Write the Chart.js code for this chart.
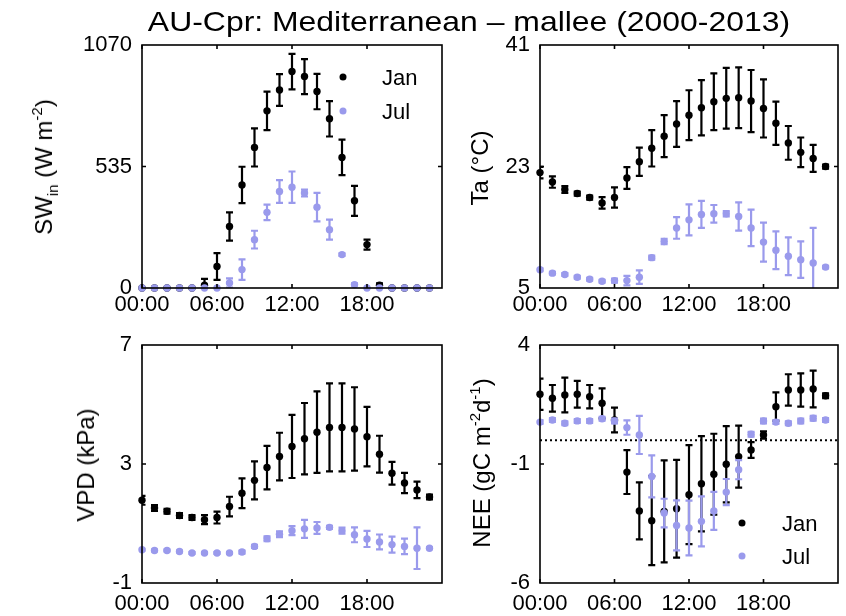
<!DOCTYPE html>
<html>
<head>
<meta charset="utf-8">
<script src="https://cdn.jsdelivr.net/npm/chart.js@4.4.1/dist/chart.umd.min.js"></script>
<style>
  body { margin: 0; background: #fff; font-family: "Liberation Sans", Arial, sans-serif; }
  #wrap { position: relative; width: 846px; height: 616px; overflow: hidden; }
  canvas { position: absolute; left: 0; top: 0; }
  .txt { position: absolute; color: #000; white-space: nowrap; line-height: 1; }
  .ylab { position: absolute; color: #000; font-size: 24px; white-space: nowrap; line-height: 1;
          transform: translate(-50%, -50%) rotate(-90deg); }
  .sub, .sup { font-size: 15px; position: relative; }
  .sub { top: 6px; }
  .sup { top: -10px; }
  .dot { position: absolute; width: 7px; height: 7px; border-radius: 50%; transform: translate(-50%, -50%); }
  .leg { position: absolute; font-size: 22px; line-height: 1; transform: translateY(-50%); }
</style>
</head>
<body>
<div id="wrap">
  <canvas id="c_sw" width="846" height="616"></canvas>
  <canvas id="c_ta" width="846" height="616"></canvas>
  <canvas id="c_vpd" width="846" height="616"></canvas>
  <canvas id="c_nee" width="846" height="616"></canvas>

  <div class="txt" style="left:469px;top:8px;font-size:28px;transform:translateX(-50%) scaleX(1.14);">AU-Cpr: Mediterranean – mallee (2000-2013)</div>

  <div class="ylab" style="left:44px;top:167px;">SW<span class="sub">in</span> (W m<span class="sup">-2</span>)</div>
  <div class="ylab" style="left:480px;top:168px;">Ta (°C)</div>
  <div class="ylab" style="left:86px;top:465px;">VPD (kPa)</div>
  <div class="ylab" style="left:482px;top:463px;">NEE (gC m<span class="sup">-2</span>d<span class="sup">-1</span>)</div>

  <div class="dot" style="left:343px;top:77px;background:#000;"></div>
  <div class="leg" style="left:382px;top:78px;">Jan</div>
  <div class="dot" style="left:343px;top:111px;background:#9a9aec;"></div>
  <div class="leg" style="left:382px;top:112px;">Jul</div>

  <div class="dot" style="left:742px;top:523px;background:#000;"></div>
  <div class="leg" style="left:782px;top:524px;">Jan</div>
  <div class="dot" style="left:742px;top:556px;background:#9a9aec;"></div>
  <div class="leg" style="left:782px;top:557px;">Jul</div>
</div>

<script>
const HOURS = [0,1,2,3,4,5,6,7,8,9,10,11,12,13,14,15,16,17,18,19,20,21,22,23];
const X_TICKS = [0, 6, 12, 18];
const X_LABELS = ["00:00", "06:00", "12:00", "18:00"];

const SW_JAN = [0,0,0,0,0,12,95,271,454,619,780,872,953,931,865,745,575,384,191,12,0,0,0,0];
const SW_JAN_ERR = [0,0,0,0,0,28,59,62,80,84,85,70,78,77,78,78,78,66,22,8,0,0,0,0];
const SW_JUL = [0,0,0,0,0,0,0,22,81,213,333,425,444,418,356,257,147,15,0,0,0,0,0,0];
const SW_JUL_ERR = [0,0,0,0,0,0,0,20,45,39,34,50,69,15,63,44,6,5,0,0,0,0,0,0];
const SW_TICKS = [0, 535, 1070];

const TA_JAN = [22.1,20.7,19.6,19.0,18.4,17.6,18.4,21.3,23.7,25.7,27.5,29.3,30.6,31.7,32.6,33.1,33.2,32.7,31.6,29.4,26.5,25.1,24.2,23.0];
const TA_JAN_ERR = [0.85,0.85,0.5,0.3,0.3,0.85,1.5,1.6,2.1,2.7,3.1,3.4,3.7,4.1,4.2,4.5,4.5,4.6,4.3,3.2,2.5,2.2,2.0,0.3];
const TA_JUL = [7.7,7.2,7.0,6.6,6.3,6.0,6.1,6.1,6.6,9.5,11.9,13.9,15.1,15.9,16.0,16.0,15.6,13.9,11.8,10.6,9.7,9.2,8.7,8.1];
const TA_JUL_ERR = [0.2,0.2,0.2,0.2,0.2,0.2,0.3,0.7,1.0,0.3,0.4,1.6,2.3,2.0,1.3,0.4,2.1,2.7,2.9,2.8,2.8,2.7,5.2,0.2];
const TA_TICKS = [5, 23, 41];

const VPD_JAN = [1.78,1.52,1.41,1.27,1.20,1.13,1.20,1.57,2.02,2.45,2.88,3.25,3.59,3.85,4.07,4.23,4.23,4.18,3.92,3.33,2.69,2.36,2.13,1.89];
const VPD_JAN_ERR = [0.15,0.1,0.08,0.08,0.08,0.15,0.2,0.33,0.5,0.64,0.73,0.8,1.06,1.2,1.37,1.48,1.48,1.4,1.0,0.62,0.38,0.34,0.28,0.08];
const VPD_JUL = [0.12,0.09,0.09,0.06,0.01,0.01,0.01,0.01,0.04,0.23,0.49,0.64,0.76,0.82,0.85,0.87,0.76,0.62,0.48,0.38,0.29,0.23,0.17,0.17];
const VPD_JUL_ERR = [0.03,0.03,0.03,0.03,0.03,0.03,0.03,0.03,0.05,0.05,0.08,0.1,0.15,0.3,0.2,0.05,0.1,0.25,0.27,0.25,0.27,0.26,0.7,0.03];
const VPD_TICKS = [-1, 3, 7];

const NEE_JAN = [1.93,1.76,1.90,1.93,1.83,1.55,0.85,-1.34,-2.97,-3.38,-2.99,-2.88,-2.29,-1.83,-1.43,-1.01,-0.69,-0.41,0.22,1.41,2.11,2.11,2.15,1.87];
const NEE_JAN_ERR = [0.66,0.56,0.73,0.56,0.49,0.63,0.52,0.92,1.2,1.87,2.14,2.05,2.08,2.0,1.7,1.6,1.3,0.33,0.15,0.6,0.66,0.7,0.77,0.1];
const NEE_JUL = [0.76,0.85,0.71,0.81,0.81,0.9,0.81,0.53,0.22,-1.52,-3.06,-3.58,-3.69,-3.41,-2.97,-2.18,-1.24,0.25,0.81,0.76,0.71,0.81,0.92,0.85];
const NEE_JUL_ERR = [0.08,0.08,0.08,0.08,0.08,0.08,0.1,0.3,0.8,0.88,0.6,1.05,1.15,1.05,0.8,0.55,0.4,0.1,0.1,0.08,0.08,0.1,0.1,0.08];
const NEE_TICKS = [-6, -1, 4];
const ZERO_X = [0, 24];
const ZERO_Y = [0, 0];

const JAN_COLOR = "#000000";
const JUL_COLOR = "#9a9aec";
const FONT = { family: "Liberation Sans, Arial, sans-serif", size: 22 };
const Y_AXIS_W = 100;   // fixed axis box sizes so the plot areas land where they should
const X_AXIS_H = 30;

// error bars drawn just before each dataset's own points
const errorBarPlugin = {
  id: "errorBars",
  beforeDatasetDraw(chart, args) {
    const ds = chart.data.datasets[args.index];
    if (!ds._errors) return;
    const { ctx, chartArea, scales } = chart;
    ctx.save();
    ctx.beginPath();
    ctx.rect(chartArea.left, chartArea.top, chartArea.right - chartArea.left, chartArea.bottom - chartArea.top);
    ctx.clip();
    ctx.strokeStyle = ds.pointBackgroundColor;
    ctx.lineWidth = 2.2;
    ds.data.forEach((p, i) => {
      const e = ds._errors[i];
      if (!e) return;
      const x = scales.x.getPixelForValue(p.x);
      const y1 = scales.y.getPixelForValue(p.y - e);
      const y2 = scales.y.getPixelForValue(p.y + e);
      ctx.beginPath();
      ctx.moveTo(x, y1); ctx.lineTo(x, y2);
      ctx.moveTo(x - 3.5, y1); ctx.lineTo(x + 3.5, y1);
      ctx.moveTo(x - 3.5, y2); ctx.lineTo(x + 3.5, y2);
      ctx.stroke();
    });
    ctx.restore();
  }
};

// box frame with inward ticks on all four sides
const framePlugin = {
  id: "frame",
  afterDatasetsDraw(chart) {
    const { ctx, chartArea: a, scales } = chart;
    ctx.save();
    ctx.strokeStyle = "#000";
    ctx.lineWidth = 1.6;
    ctx.strokeRect(a.left, a.top, a.right - a.left, a.bottom - a.top);
    ctx.beginPath();
    X_TICKS.forEach(v => {
      const x = scales.x.getPixelForValue(v);
      ctx.moveTo(x, a.bottom); ctx.lineTo(x, a.bottom - 4);
      ctx.moveTo(x, a.top); ctx.lineTo(x, a.top + 4);
    });
    const mid = scales.y.getPixelForValue(chart.options._yTicks[1]);
    ctx.moveTo(a.left, mid); ctx.lineTo(a.left + 4, mid);
    ctx.moveTo(a.right, mid); ctx.lineTo(a.right - 4, mid);
    ctx.stroke();
    ctx.restore();
  }
};

function pts(ys) {
  return HOURS.map((h, i) => ({ x: h, y: ys[i] }));
}

function seriesDataset(label, ys, errs, color, order) {
  return {
    label: label,
    data: pts(ys),
    _errors: errs,
    order: order,
    showLine: false,
    pointRadius: 3.7,
    pointHoverRadius: 3.7,
    pointBorderWidth: 0,
    pointBackgroundColor: color,
    backgroundColor: color,
    borderColor: color,
    clip: false,
  };
}

function createPanel(canvasId, box, yTicks, janY, janE, julY, julE, xLabelPad, extra) {
  const datasets = [
    seriesDataset("Jan", janY, janE, JAN_COLOR, 1),
    seriesDataset("Jul", julY, julE, JUL_COLOR, 0),
  ];
  if (extra) datasets.push(extra);
  return new Chart(document.getElementById(canvasId), {
    type: "scatter",
    data: { datasets },
    plugins: [errorBarPlugin, framePlugin],
    options: {
      _yTicks: yTicks,
      responsive: false,
      animation: false,
      devicePixelRatio: 1,
      events: [],
      layout: { padding: {
        left: box.l - Y_AXIS_W, top: box.t,
        right: 846 - box.r, bottom: 616 - box.b - X_AXIS_H,
      } },
      plugins: { legend: { display: false }, tooltip: { enabled: false } },
      scales: {
        x: {
          type: "linear", min: 0, max: 24,
          afterFit: s => { s.height = X_AXIS_H; },
          afterBuildTicks: s => { s.ticks = X_TICKS.map(v => ({ value: v })); },
          ticks: {
            font: FONT, color: "#000", padding: xLabelPad, maxRotation: 0, autoSkip: false,
            callback: v => X_LABELS[X_TICKS.indexOf(v)],
          },
          grid: { display: false, drawTicks: false },
          border: { display: false },
        },
        y: {
          type: "linear", min: yTicks[0], max: yTicks[2],
          afterFit: s => { s.width = Y_AXIS_W; },
          afterBuildTicks: s => { s.ticks = yTicks.map(v => ({ value: v })); },
          ticks: { font: FONT, color: "#000", padding: 10, autoSkip: false, callback: v => String(v) },
          grid: { display: false, drawTicks: false },
          border: { display: false },
        },
      },
    },
  });
}

const zeroLine = {
  label: "zero",
  type: "line",
  data: ZERO_X.map((x, i) => ({ x: x, y: ZERO_Y[i] })),
  order: 2,
  showLine: true,
  borderColor: "#000",
  borderWidth: 2,
  borderDash: [2, 3],
  pointRadius: 0,
  fill: false,
};

createPanel("c_sw", { l: 142, t: 45, r: 442, b: 288 }, SW_TICKS, SW_JAN, SW_JAN_ERR, SW_JUL, SW_JUL_ERR, 4);
createPanel("c_ta", { l: 540, t: 45, r: 838, b: 288 }, TA_TICKS, TA_JAN, TA_JAN_ERR, TA_JUL, TA_JUL_ERR, 4);
createPanel("c_vpd", { l: 142, t: 345, r: 442, b: 583 }, VPD_TICKS, VPD_JAN, VPD_JAN_ERR, VPD_JUL, VPD_JUL_ERR, 8);
createPanel("c_nee", { l: 540, t: 345, r: 838, b: 583 }, NEE_TICKS, NEE_JAN, NEE_JAN_ERR, NEE_JUL, NEE_JUL_ERR, 8, zeroLine);
</script>
</body>
</html>
